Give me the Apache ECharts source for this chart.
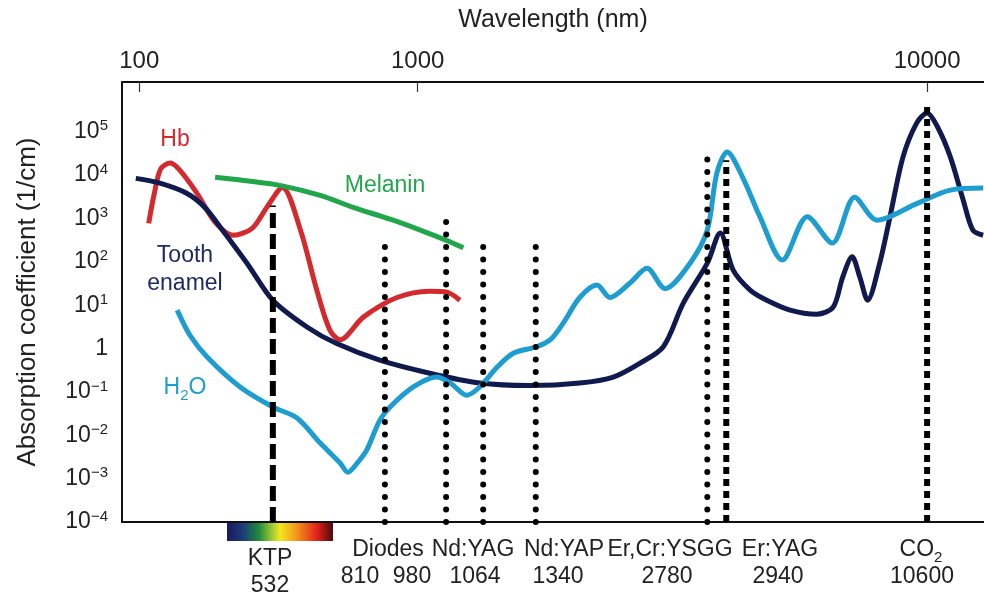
<!DOCTYPE html>
<html>
<head>
<meta charset="utf-8">
<title>Absorption coefficient vs wavelength</title>
<script src="https://cdn.jsdelivr.net/npm/echarts@6/dist/echarts.min.js"></script>
<style>
  html, body { margin: 0; padding: 0; background: #fff; }
  #chart { width: 984px; height: 598px; }
</style>
</head>
<body>
<div id="chart"></div>
<script>
// the wavelength axis of the original figure is schematic (not a true log scale),
// so x is the position along it: 0 = left edge, 100 = right edge
const topTickPos = [2.0, 34.3, 93.4];
const topTickText = ['100', '1000', '10000'];

// absorption coefficients in 1/cm
const hbX = [3.1, 3.7, 4.5, 5.6, 6.7, 8.7, 10.8, 12.9, 15.1, 16.8, 18.6, 20.7, 22.6, 24.1, 25.3, 28.0, 31.9, 35.7, 37.7, 39.2];
const hbY = [770, 3400, 14000, 19000, 13000, 3800, 820, 410, 590, 1800, 5200, 540, 22, 2.7, 1.6, 5.3, 15, 21, 20, 13];

const melaninX = [10.8, 14.9, 18.3, 23.0, 26.8, 31.1, 34.6, 37.5, 39.6];
const melaninY = [8900, 7200, 5800, 3400, 1800, 960, 540, 320, 210];

const enamelX = [1.6, 4.4, 7.5, 9.6, 11.4, 14.5, 17.5, 21.5, 24.9, 29.9, 35.7, 41.5, 47.3, 53.1, 57.0, 60.1, 62.8, 65.1, 67.9, 69.4,
  70.9, 72.9, 74.8, 77.5, 80.6, 82.5, 83.6, 84.7, 85.6, 86.5, 87.9, 89.1, 90.6, 92.2, 93.4, 94.6, 96.1, 97.6, 98.7, 99.9];
const enamelY = [8400, 6500, 3800, 1800, 630, 93, 13, 3.1, 1.3, 0.54, 0.27, 0.16, 0.14, 0.16, 0.22, 0.46, 1.1, 11, 93, 460,
  64, 22, 13, 7.7, 6.2, 9.0, 44, 130, 44, 13, 93, 1100, 26000, 160000, 270000, 130000, 26000, 2600, 540, 410];

const waterX = [6.4, 7.9, 9.9, 13.7, 17.5, 20.3, 23.0, 25.3, 26.2, 27.3, 28.4, 29.9, 31.1, 33.8, 36.5, 38.1, 40.0, 41.5, 43.5, 45.4,
  48.1, 49.7, 51.2, 53.1, 55.1, 56.6, 58.9, 60.9, 63.0, 65.9, 67.9, 69.0, 70.2, 72.0, 74.0, 76.6, 79.5, 82.4, 85.0, 87.6, 92.2, 96.1, 99.9];
const waterY = [7.7, 2.0, 0.63, 0.13, 0.045, 0.025, 0.0066, 0.0023, 0.0014, 0.0023, 0.0046, 0.022, 0.045, 0.13, 0.22, 0.16, 0.084, 0.13, 0.37, 0.78,
  1.1, 1.6, 3.9, 15, 29, 15, 32, 71, 24, 93, 540, 11000, 34000, 8900, 1100, 110, 1100, 270, 3100, 910, 2200, 4500, 5000];

// laser lines
const laserNames = ['KTP', 'Diodes', 'Diodes', 'Nd:YAG', 'Nd:YAP', 'Er,Cr:YSGG', 'Er:YAG', 'CO2'];
const laserNm = [532, 810, 980, 1064, 1340, 2780, 2940, 10600];
const laserPos = [17.5, 30.5, 37.6, 41.9, 48.0, 67.9, 70.1, 93.4];
const laserTop = [2000, 270, 1070, 270, 270, 24000, 22000, 400000];

const FONT = '"Liberation Sans", Arial, Helvetica, sans-serif';
const colors = { hb: '#d42a2e', melanin: '#22a64b', enamel: '#101a4f', water: '#1d9dd0' };

const zip = (xs, ys) => xs.map((x, i) => [x, ys[i]]);

const curve = (name, xs, ys, color) => ({
  name: name,
  type: 'line',
  data: zip(xs, ys),
  smooth: 0.3,
  symbol: 'none',
  z: 2,
  lineStyle: { color: color, width: 5 }
});

// dash pattern per laser
const laserStyle = (i) => {
  if (laserNames[i] === 'KTP') return { type: [15, 6], width: 6, cap: 'butt' };
  if (laserNames[i] === 'Er:YAG' || laserNames[i] === 'CO2') return { type: [7, 5], width: 6, cap: 'butt' };
  return { type: [0.1, 12.4], width: 6, cap: 'round' };
};

const laserSeries = laserPos.map((p, i) => ({
  name: laserNames[i] + ' ' + laserNm[i],
  type: 'line',
  data: [[p, 1e-4], [p, laserTop[i]]],
  symbol: 'none',
  z: 3,
  lineStyle: Object.assign({ color: '#000' }, laserStyle(i))
}));

const supLabel = (v) => {
  const e = Math.round(Math.log10(v));
  if (e > 5) return '';
  if (e === 0) return '1';
  return '10{sup|' + (e < 0 ? '\u2212' + (-e) : e) + '}';
};

const txt = (text, x, y, color, extra) => ({
  type: 'text',
  x: x,
  y: y,
  style: Object.assign({
    text: text,
    fill: color || '#222',
    font: '23px ' + FONT,
    align: 'center',
    verticalAlign: 'middle',
    rich: { sub: { fontSize: 15, fontFamily: FONT, verticalAlign: 'bottom', lineHeight: 30, fill: color || '#222' } }
  }, extra || {})
});

const chart = echarts.init(document.getElementById('chart'));

chart.setOption({
  animation: false,
  backgroundColor: '#fff',
  textStyle: { fontFamily: FONT },
  grid: { left: 122, right: 0, top: 82, bottom: 76, outerBoundsMode: 'none' },
  xAxis: [
    {
      type: 'value',
      position: 'top',
      min: 0,
      max: 100,
      name: 'Wavelength (nm)',
      nameLocation: 'middle',
      nameGap: 49,
      nameMoveOverlap: false,
      nameTextStyle: { fontSize: 25, color: '#222' },
      axisLine: { lineStyle: { color: '#111', width: 2 } },
      axisTick: { inside: true, length: 10, customValues: topTickPos, lineStyle: { color: '#333', width: 1.2 } },
      axisLabel: {
        customValues: topTickPos,
        fontSize: 24,
        color: '#222',
        margin: 9,
        formatter: (v) => topTickText[topTickPos.indexOf(v)]
      },
      splitLine: { show: false }
    },
    {
      type: 'value',
      position: 'bottom',
      min: 0,
      max: 100,
      axisLine: { lineStyle: { color: '#111', width: 2 } },
      axisTick: { show: false },
      axisLabel: { show: false },
      splitLine: { show: false }
    }
  ],
  yAxis: {
    type: 'log',
    min: 1e-4,
    max: 1.4e6,
    interval: 1,
    name: 'Absorption coefficient (1/cm)',
    nameLocation: 'middle',
    nameGap: 81,
    nameMoveOverlap: false,
    nameTextStyle: { fontSize: 26, color: '#222' },
    axisLine: { lineStyle: { color: '#111', width: 2 } },
    axisTick: { show: false },
    splitLine: { show: false },
    axisLabel: {
      color: '#222',
      fontSize: 23,
      margin: 14,
      formatter: supLabel,
      rich: { sup: { fontSize: 15, verticalAlign: 'top', lineHeight: 26, color: '#222' } }
    }
  },
  series: [
    curve('Hb', hbX, hbY, colors.hb),
    curve('Melanin', melaninX, melaninY, colors.melanin),
    curve('Tooth enamel', enamelX, enamelY, colors.enamel),
    curve('H2O', waterX, waterY, colors.water)
  ].concat(laserSeries),
  graphic: [
    {
      type: 'rect',
      shape: { x: 227, y: 523, width: 106, height: 18 },
      style: {
        fill: new echarts.graphic.LinearGradient(0, 0, 1, 0, [
          { offset: 0, color: '#1b1a5c' },
          { offset: 0.15, color: '#1d3b7a' },
          { offset: 0.3, color: '#1f8a3c' },
          { offset: 0.45, color: '#b8d632' },
          { offset: 0.5, color: '#f5e61e' },
          { offset: 0.65, color: '#f39a1c' },
          { offset: 0.85, color: '#e3201b' },
          { offset: 1, color: '#4a0a0a' }
        ])
      }
    },
    txt('Hb', 175, 140, colors.hb),
    txt('Melanin', 385, 186, colors.melanin),
    txt('Tooth', 185, 256, '#1c2a66'),
    txt('enamel', 185, 284, '#1c2a66'),
    txt('H{sub|2}O', 185, 388, colors.water),
    txt('KTP', 270, 559),
    txt('532', 270, 586),
    txt('Diodes', 388, 550),
    txt('810', 360, 577),
    txt('980', 412, 577),
    txt('Nd:YAG', 473, 550),
    txt('1064', 475, 577),
    txt('Nd:YAP', 564, 550),
    txt('1340', 558, 577),
    txt('Er,Cr:YSGG', 670, 550),
    txt('2780', 667, 577),
    txt('Er:YAG', 780, 550),
    txt('2940', 778, 577),
    txt('CO{sub|2}', 921, 550),
    txt('10600', 922, 577)
  ]
});
</script>
</body>
</html>
